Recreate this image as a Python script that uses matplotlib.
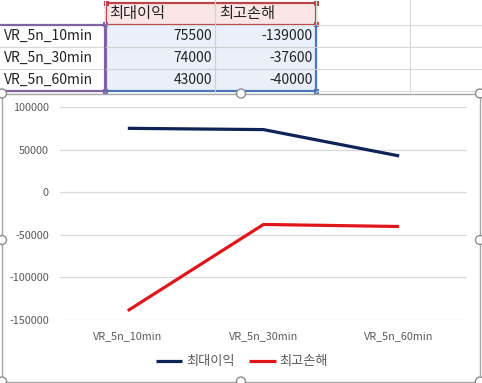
import matplotlib.pyplot as plt
from matplotlib.patches import Rectangle, Circle

plt.rcParams['font.family'] = ['Noto Sans CJK KR', 'DejaVu Sans']

categories = ["VR_5n_10min", "VR_5n_30min", "VR_5n_60min"]
series_names = ["최대이익", "최고손해"]
max_profit = [75500, 74000, 43000]
max_loss = [-139000, -37600, -40000]
y_ticks = [100000, 50000, 0, -50000, -100000, -150000]

W, H = 482, 383
fig = plt.figure(figsize=(W / 100, H / 100), dpi=100)

# spreadsheet backdrop in pixel coords
bg = fig.add_axes([0, 0, 1, 1])
bg.set_xlim(0, W)
bg.set_ylim(H, 0)
bg.axis("off")

col_x = [0, 105, 215, 316, 410, W]
row_y = [0, 25, 47, 69, 91]
grid_c = "#d9d9d9"
for x in col_x[1:-1]:
    bg.plot([x, x], [0, 92], color=grid_c, lw=0.8)
for y in row_y[1:]:
    bg.plot([0, W], [y, y], color=grid_c, lw=0.8)

# header cells (pink, red border)
bg.add_patch(Rectangle((106, 3), 210, 21.5, facecolor="#fbe6e6", edgecolor="#b8454c", lw=1.6))
# value cells (blue)
bg.add_patch(Rectangle((106, 25.5), 210, 65.5, facecolor="#e9f0fa", edgecolor="none"))
bg.plot([106, 316, 316], [91, 91, 25.5], color="#4a78b8", lw=1.6)
bg.plot([106, 106], [25.5, 91], color="#8064a2", lw=1.6)
# inner gridlines in selection
bg.plot([215, 215], [3, 91], color="#d0d0d0", lw=0.8)
for y in row_y[2:4]:
    bg.plot([106, 316], [y, y], color="#d0d0d0", lw=0.8)
# category cells (purple border)
bg.plot([1, 105, 105], [24.5, 24.5, 91], color="#8064a2", lw=1.6)
bg.plot([1, 105], [91, 91], color="#8064a2", lw=1.6)

for (hx, hy, hc) in [(106, 3, "#b8454c"), (316, 3, "#b8454c"), (316, 24.5, "#b8454c"),
                     (105, 24.5, "#8064a2"), (105, 91, "#8064a2"), (316, 91, "#4a78b8")]:
    bg.add_patch(Rectangle((hx - 2.5, hy - 2.5), 5, 5, facecolor=hc, edgecolor="none"))

tfs = 10
for j, name in enumerate(series_names):
    bg.text(col_x[j + 1] + 4, 13.5, name, fontsize=11, va="center", ha="left", color="#222222")
for i, cat in enumerate(categories):
    yc = (row_y[i + 1] + row_y[i + 2]) / 2
    bg.text(4, yc, cat, fontsize=tfs, va="center", ha="left", color="#222222")
    bg.text(col_x[2] - 3, yc, str(max_profit[i]), fontsize=tfs, va="center", ha="right", color="#222222")
    bg.text(col_x[3] - 3, yc, str(max_loss[i]), fontsize=tfs, va="center", ha="right", color="#222222")

# chart frame
bg.add_patch(Rectangle((2, 93.5), 478, 288, facecolor="white", edgecolor="#a6a6a6", lw=1.0, zorder=2))
for (cx, cy) in [(2, 93.5), (241, 93.5), (480, 93.5), (2, 240), (480, 240), (2, 381.5), (241, 381.5), (480, 381.5)]:
    bg.add_patch(Circle((cx, cy), 4.5, facecolor="white", edgecolor="#8c8c8c", lw=1.0, zorder=3))

# the chart itself
ax = fig.add_axes([60 / W, 1 - 320 / H, 407 / W, (320 - 107.5) / H])
ax.set_facecolor("none")
x = list(range(len(categories)))
ax.plot(x, max_profit, color="#0e2356", lw=2.3, label=series_names[0], solid_capstyle="butt")
ax.plot(x, max_loss, color="#e0161a", lw=2.3, label=series_names[1], solid_capstyle="butt")
ax.set_xlim(-0.5, len(categories) - 0.5)
ax.set_ylim(-150000, 100000)
ax.set_yticks(y_ticks)
ax.set_yticklabels([str(v) for v in y_ticks])
ax.set_xticks(x)
ax.set_xticklabels(categories)
ax.grid(axis="y", color="#d9d9d9", lw=0.9)
ax.set_axisbelow(True)
for s in ax.spines.values():
    s.set_visible(False)
ax.tick_params(length=0, labelsize=7.8, colors="#595959")
ax.tick_params(axis="y", pad=8)
ax.tick_params(axis="x", pad=8)

fig.legend(loc="center", bbox_to_anchor=(0.502, 0.055), ncol=2, frameon=False,
           fontsize=9.5, handlelength=2.0, columnspacing=1.1, handletextpad=0.3,
           labelcolor="#595959")

fig.savefig("out.png", dpi=100)
